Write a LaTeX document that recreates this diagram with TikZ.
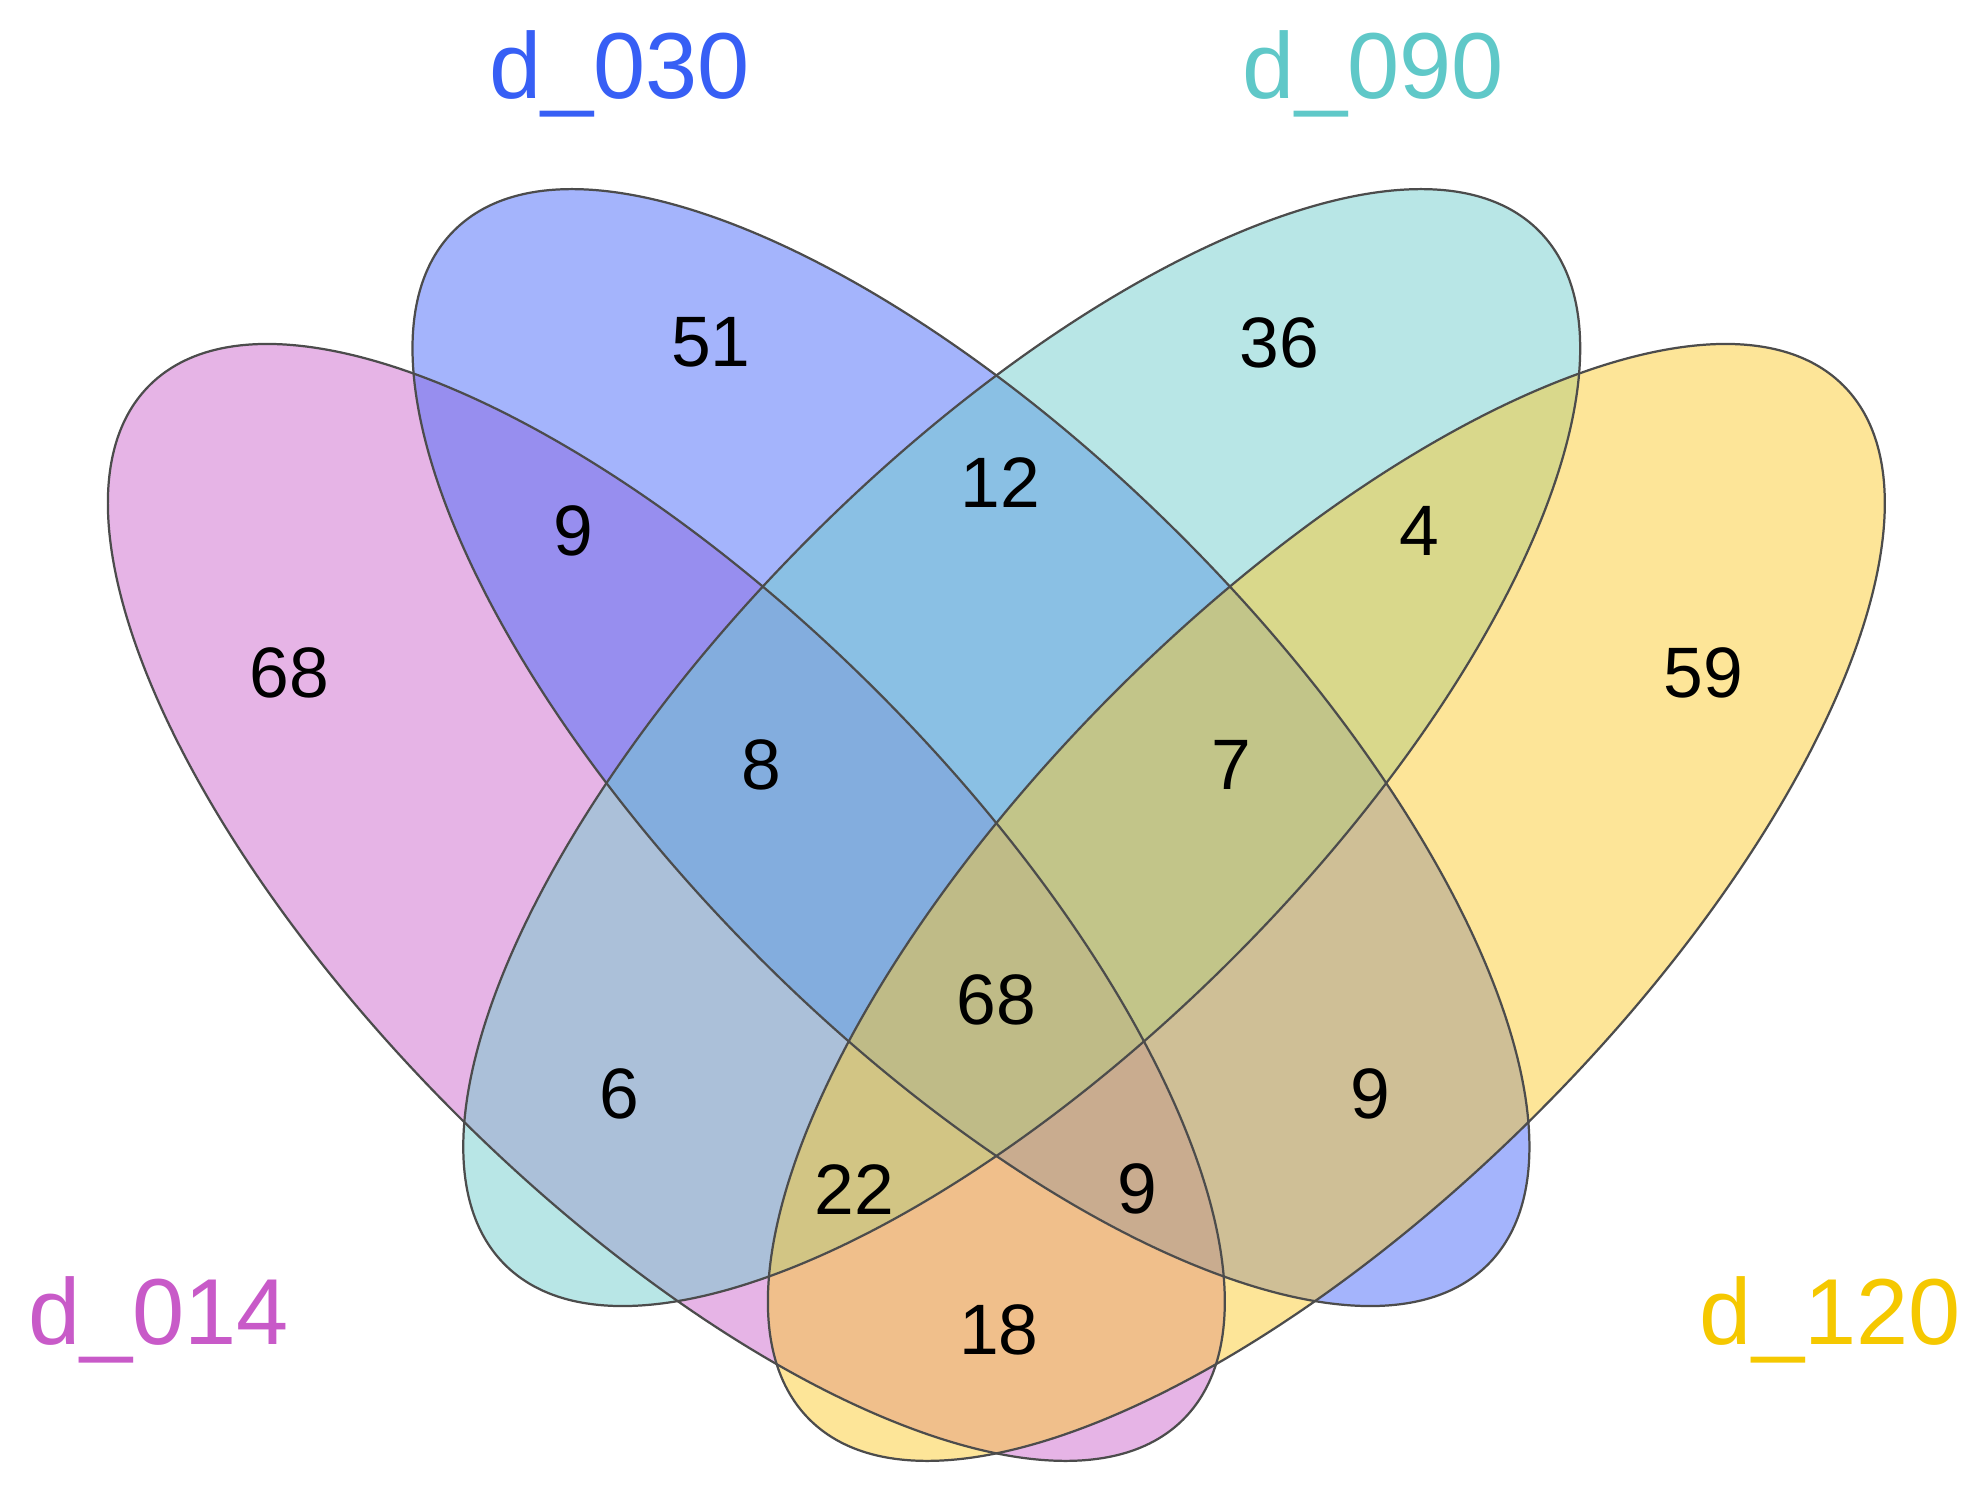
\documentclass[tikz,border=0pt]{standalone}
\usepackage{fontspec}
\setmainfont{Liberation Sans}
\definecolor{cA}{RGB}{205,105,205}
\definecolor{cB}{RGB}{73,105,249}
\definecolor{cC}{RGB}{113,205,205}
\definecolor{cD}{RGB}{251,203,49}
\definecolor{lA}{RGB}{200,90,200}
\definecolor{lB}{RGB}{55,95,245}
\definecolor{lC}{RGB}{95,200,200}
\definecolor{lD}{RGB}{245,200,0}
\begin{document}
\begin{tikzpicture}[x=0.01cm,y=-0.01cm,
  set/.style={fill opacity=0.5},
  edge/.style={draw=black!70,line width=0.5pt},
  num/.style={font=\fontsize{16}{18}\selectfont},
  lab/.style={font=\fontsize{21}{24}\selectfont}]
\useasboundingbox (0,0) rectangle (1560,1170);
\fill[set,fill=cA] (525,711) ellipse [x radius=576,y radius=235,rotate=-45];
\fill[set,fill=cB] (765,589) ellipse [x radius=576,y radius=235,rotate=-45];
\fill[set,fill=cC] (805,589) ellipse [x radius=576,y radius=235,rotate=45];
\fill[set,fill=cD] (1045,711) ellipse [x radius=576,y radius=235,rotate=45];
\draw[edge] (525,711) ellipse [x radius=576,y radius=235,rotate=-45];
\draw[edge] (765,589) ellipse [x radius=576,y radius=235,rotate=-45];
\draw[edge] (805,589) ellipse [x radius=576,y radius=235,rotate=45];
\draw[edge] (1045,711) ellipse [x radius=576,y radius=235,rotate=45];
\node[num] (n1) at (560,270) {51};
\node[num] (n2) at (1008,270) {36};
\node[num] (n3) at (452,418) {9};
\node[num] (n4) at (788,380) {12};
\node[num] (n5) at (1118,418) {4};
\node[num] (n6) at (228,530) {68};
\node[num] (n7) at (1342,530) {59};
\node[num] (n8) at (600,603) {8};
\node[num] (n9) at (970,603) {7};
\node[num] (n10) at (785,788) {68};
\node[num] (n11) at (488,862) {6};
\node[num] (n12) at (1080,862) {9};
\node[num] (n13) at (673,937) {22};
\node[num] (n14) at (896,937) {9};
\node[num] (n15) at (787,1048) {18};
\node[lab,text=lB] (lb) at (488,58) {d\_030};
\node[lab,text=lC] (lc) at (1082,58) {d\_090};
\node[lab,text=lA] (la) at (125,1040) {d\_014};
\node[lab,text=lD] (ld) at (1442,1040) {d\_120};
\end{tikzpicture}
\end{document}
